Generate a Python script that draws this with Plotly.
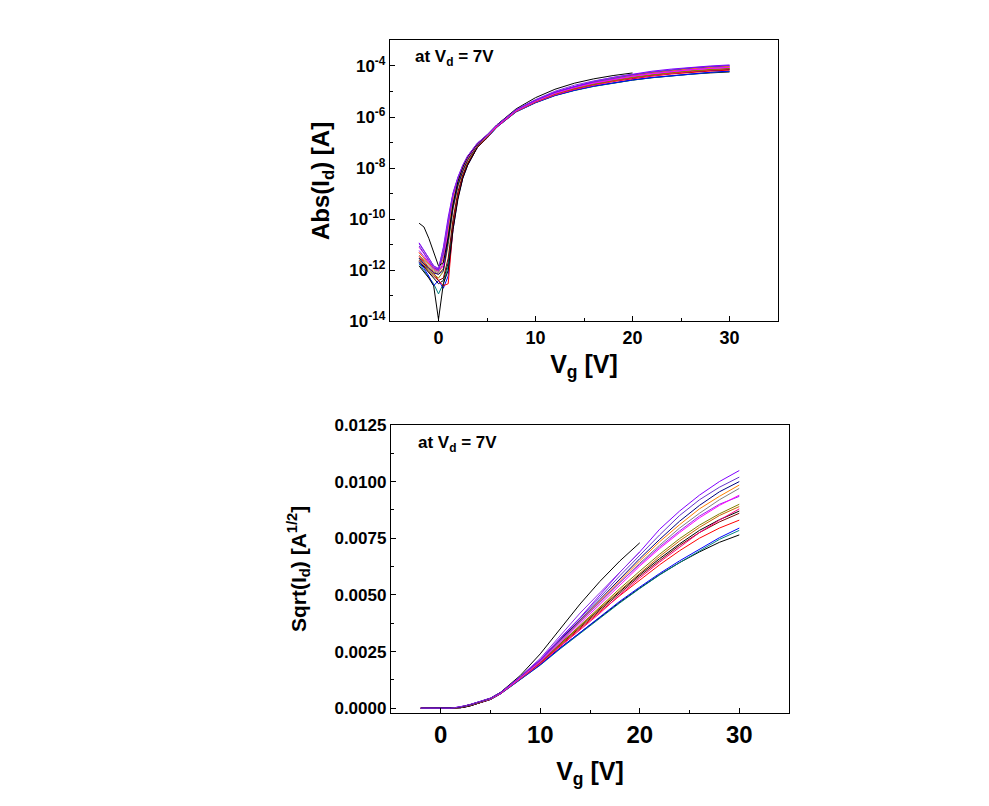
import numpy as np
import plotly.graph_objects as go

# Gate voltage grid [V]
vg = [-2, -1.5, -1, -0.5, 0, 0.5, 1, 1.5, 2, 2.5, 3, 4, 5,
      6, 8, 10, 12, 14, 16, 18, 20, 22, 24, 26, 28, 30]

# Abs(Id) [A] for each device
dev_p = [2.2e-12, 1.3e-12, 8e-13, 5e-13, 3e-13, 4e-13, 2e-12, 6e-11, 8e-10, 4.5e-9, 1.4e-8, 6.5e-8, 1.55e-7,
         4.10e-7, 1.64e-6, 3.72e-6, 7.08e-6, 1.12e-5, 1.62e-5, 2.19e-5, 2.81e-5, 3.48e-5, 4.13e-5, 4.76e-5, 5.36e-5, 5.85e-5]
dev_o = [1.8e-12, 1e-12, 6e-13, 3e-13, 1.2e-13, 3e-13, 1.5e-12, 7e-11, 9e-10, 5e-9, 1.5e-8, 6.8e-8, 1.5e-7,
         3.97e-7, 1.59e-6, 3.61e-6, 6.86e-6, 1.09e-5, 1.58e-5, 2.16e-5, 2.79e-5, 3.46e-5, 4.13e-5, 4.83e-5, 5.55e-5, 6.16e-5]
dev_n = [2e-12, 1.2e-12, 6e-13, 2.5e-13, 4e-13, 2e-13, 6e-13, 4e-11, 7e-10, 4e-9, 1.3e-8, 6.5e-8, 1.5e-7,
         3.97e-7, 1.61e-6, 3.69e-6, 7.02e-6, 1.12e-5, 1.64e-5, 2.23e-5, 2.86e-5, 3.54e-5, 4.23e-5, 4.94e-5, 5.66e-5, 6.32e-5]
dev_l = [3.5e-12, 2e-12, 1.2e-12, 8e-13, 4e-13, 2.5e-13, 3e-13, 5e-11, 8e-10, 4.5e-9, 1.4e-8, 6.5e-8, 1.55e-7,
         4.23e-7, 1.69e-6, 3.92e-6, 7.56e-6, 1.23e-5, 1.81e-5, 2.47e-5, 3.21e-5, 4.01e-5, 4.83e-5, 5.63e-5, 6.32e-5, 6.89e-5]
dev_k = [2.5e-12, 1.5e-12, 9e-13, 6e-13, 4e-13, 5e-13, 3e-12, 1e-10, 1.2e-9, 5.5e-9, 1.6e-8, 7e-8, 1.6e-7,
         4.23e-7, 1.72e-6, 4.0e-6, 7.84e-6, 1.27e-5, 1.89e-5, 2.60e-5, 3.40e-5, 4.25e-5, 5.16e-5, 6.01e-5, 6.76e-5, 7.40e-5]
dev_j = [1.5e-12, 9e-13, 5e-13, 2.5e-13, 1.2e-14, 3e-13, 1e-12, 4e-11, 6e-10, 4e-9, 1.3e-8, 6.5e-8, 1.6e-7,
         4.49e-7, 1.80e-6, 4.20e-6, 8.12e-6, 1.31e-5, 1.94e-5, 2.65e-5, 3.48e-5, 4.36e-5, 5.26e-5, 6.16e-5, 6.92e-5, 7.57e-5]
dev_m = [5e-12, 3e-12, 1.7e-12, 1.1e-12, 9e-13, 1.5e-12, 2.5e-11, 4e-10, 2.5e-9, 8.5e-9, 2.2e-8, 7.5e-8, 1.65e-7,
         4.10e-7, 1.66e-6, 3.84e-6, 7.40e-6, 1.20e-5, 1.76e-5, 2.50e-5, 3.31e-5, 4.16e-5, 5.07e-5, 6.01e-5, 6.89e-5, 7.74e-5]
dev_i = [4e-12, 2.2e-12, 1.3e-12, 9e-13, 7e-13, 1.2e-12, 2e-11, 3e-10, 2e-9, 7.5e-9, 2e-8, 7.5e-8, 1.7e-7,
         4.36e-7, 1.74e-6, 4.08e-6, 8.01e-6, 1.31e-5, 1.95e-5, 2.70e-5, 3.56e-5, 4.49e-5, 5.45e-5, 6.37e-5, 7.23e-5, 7.92e-5]
dev_h = [3e-12, 1.8e-12, 1e-12, 7e-13, 5e-13, 9e-13, 1e-11, 2.5e-10, 2e-9, 7.5e-9, 2e-8, 7.5e-8, 1.7e-7,
         4.36e-7, 1.74e-6, 4.12e-6, 8.12e-6, 1.34e-5, 2.00e-5, 2.79e-5, 3.66e-5, 4.62e-5, 5.60e-5, 6.53e-5, 7.36e-5, 8.10e-5]
dev_e = [4e-12, 2.5e-12, 1.5e-12, 1e-12, 8e-13, 2e-12, 3e-11, 4e-10, 2.5e-9, 9e-9, 2.3e-8, 8e-8, 1.75e-7,
         4.49e-7, 1.82e-6, 4.33e-6, 8.70e-6, 1.44e-5, 2.19e-5, 3.08e-5, 4.10e-5, 5.18e-5, 6.32e-5, 7.40e-5, 8.46e-5, 9.41e-5]
dev_c = [3e-12, 1.8e-12, 1.2e-12, 8e-13, 7e-13, 1e-12, 1.5e-11, 3e-10, 2.2e-9, 8e-9, 2.2e-8, 8e-8, 1.8e-7,
         4.62e-7, 1.88e-6, 4.49e-6, 9.0e-6, 1.52e-5, 2.30e-5, 3.25e-5, 4.36e-5, 5.55e-5, 6.81e-5, 8.01e-5, 9.12e-5, 1.0e-4]
dev_d = [5e-12, 3e-12, 1.8e-12, 1.2e-12, 1e-12, 3e-12, 5e-11, 6e-10, 3e-9, 1e-8, 2.5e-8, 8.5e-8, 1.85e-7,
         4.62e-7, 1.85e-6, 4.41e-6, 8.88e-6, 1.48e-5, 2.26e-5, 3.19e-5, 4.23e-5, 5.40e-5, 6.56e-5, 7.74e-5, 8.74e-5, 9.70e-5]
dev_g = [6e-12, 3.5e-12, 2e-12, 1.2e-12, 1e-12, 4e-12, 9e-11, 1e-9, 4e-9, 1.2e-8, 2.8e-8, 9e-8, 1.9e-7,
         4.62e-7, 1.88e-6, 4.41e-6, 8.88e-6, 1.47e-5, 2.21e-5, 3.08e-5, 4.03e-5, 5.07e-5, 6.12e-5, 7.19e-5, 8.10e-5, 8.74e-5]
dev_f = [8e-12, 4.5e-12, 2.2e-12, 1.3e-12, 1.1e-12, 1.5e-12, 6e-11, 8e-10, 3.5e-9, 1.1e-8, 2.6e-8, 8.5e-8, 1.8e-7,
         4.36e-7, 1.77e-6, 4.20e-6, 8.41e-6, 1.41e-5, 2.12e-5, 2.97e-5, 3.94e-5, 4.97e-5, 6.01e-5, 7.06e-5, 8.01e-5, 8.84e-5]
dev_b = [9e-12, 5e-12, 2.5e-12, 1.3e-12, 1e-12, 5e-12, 8e-11, 9e-10, 4e-9, 1.2e-8, 2.8e-8, 9e-8, 1.9e-7,
         4.76e-7, 1.93e-6, 4.54e-6, 9.30e-6, 1.56e-5, 2.40e-5, 3.42e-5, 4.56e-5, 5.85e-5, 7.23e-5, 8.46e-5, 9.51e-5, 1.04e-4]
dev_a = [1.2e-11, 6e-12, 3e-12, 1.5e-12, 1.1e-12, 8e-12, 1.2e-10, 1.1e-9, 4.5e-9, 1.3e-8, 3e-8, 9.5e-8, 2.0e-7,
         4.9e-7, 1.96e-6, 4.62e-6, 9.61e-6, 1.6e-5, 2.5e-5, 3.6e-5, 4.76e-5, 6.24e-5, 7.57e-5, 8.84e-5, 1.0e-4, 1.10e-4]
# two devices measured only up to Vg = 20 V
dev_s1 = [7e-11, 5e-11, 1.8e-11, 5e-12, 1.5e-12, 2e-12, 2e-11, 4e-10, 3e-9, 1.1e-8, 2.8e-8, 9e-8, 2e-7,
          4.9e-7, 2.10e-6, 5.76e-6, 1.225e-5, 2.116e-5, 3.136e-5, 4.225e-5, 5.329e-5]
dev_s2 = [1.1e-11, 6e-12, 3e-12, 1.5e-12, 1.2e-12, 7e-12, 1e-10, 1e-9, 4.2e-9, 1.3e-8, 3e-8, 9.5e-8, 2e-7,
          4.76e-7, 1.96e-6, 4.84e-6, 1.024e-5, 1.764e-5, 2.601e-5, 3.6e-5, 4.761e-5]

device_colors = ["#000000", "#008080", "#0000FF", "#FF0000", "#800000", "#000000",
                 "#FF0080", "#C86400", "#808000", "#808080", "#000080", "#FF8000",
                 "#A020F0", "#FF00FF", "#6633CC", "#8000FF", "#000000", "#8A2BE2"]
device_data = [dev_p, dev_o, dev_n, dev_l, dev_k, dev_j, dev_m, dev_i, dev_h, dev_e,
               dev_c, dev_d, dev_g, dev_f, dev_b, dev_a, dev_s1, dev_s2]

# tick labels
log_tickvals = [1e-14, 1e-12, 1e-10, 1e-8, 1e-6, 1e-4]
log_ticktext = ["10<sup>-14</sup>", "10<sup>-12</sup>", "10<sup>-10</sup>",
                "10<sup>-8</sup>", "10<sup>-6</sup>", "10<sup>-4</sup>"]
log_minor = [1e-13, 1e-11, 1e-9, 1e-7, 1e-5, 1e-3]
vg_ticks = [0, 10, 20, 30]
sq_ticks = [0.0, 0.0025, 0.005, 0.0075, 0.01, 0.0125]

fig = go.Figure()
for color, vals in zip(device_colors, device_data):
    x = vg[:len(vals)]
    y = np.array(vals)
    fig.add_trace(go.Scatter(x=x, y=y, mode="lines", line=dict(color=color, width=1),
                             xaxis="x", yaxis="y", showlegend=False, hoverinfo="skip"))
    fig.add_trace(go.Scatter(x=x, y=np.sqrt(y), mode="lines", line=dict(color=color, width=1),
                             xaxis="x2", yaxis="y2", showlegend=False, hoverinfo="skip"))

axis_common = dict(showline=True, mirror=True, linecolor="black", linewidth=1.3,
                   showgrid=False, zeroline=False, ticks="inside", ticklen=5,
                   tickcolor="black", tickwidth=1.2)

# figure sized to sit inside the page's default 8px body margin
W, H = 973, 790

fig.update_layout(
    width=W, height=H,
    margin=dict(l=0, r=0, t=0, b=0),
    paper_bgcolor="white", plot_bgcolor="white",
    font=dict(family="Liberation Sans, Arial, sans-serif", color="black", weight="bold"),
    xaxis=dict(domain=[0.3926, 0.7914], anchor="y", range=[-5, 35],
               tickvals=vg_ticks, tickfont=dict(size=18),
               minor=dict(tickvals=[5, 15, 25], ticks="inside", ticklen=3, tickcolor="black"),
               title=dict(text="V<sub>g</sub> [V]", font=dict(size=25), standoff=8),
               **axis_common),
    yaxis=dict(domain=[0.6051, 0.9696], anchor="x", type="log", range=[-14, -3],
               tickvals=log_tickvals, ticktext=log_ticktext, tickfont=dict(size=17),
               minor=dict(tickvals=log_minor, ticks="inside", ticklen=3, tickcolor="black"),
               title=dict(text="Abs(I<sub>d</sub>) [A]", font=dict(size=24), standoff=12),
               **axis_common),
    xaxis2=dict(domain=[0.3936, 0.8027], anchor="y2", range=[-5, 35],
                tickvals=vg_ticks, tickfont=dict(size=24),
                minor=dict(tickvals=[5, 15, 25], ticks="inside", ticklen=3, tickcolor="black"),
                title=dict(text="V<sub>g</sub> [V]", font=dict(size=25), standoff=15),
                **axis_common),
    yaxis2=dict(domain=[0.0975, 0.4709], anchor="x2", range=[-0.0002, 0.0125],
                tickvals=sq_ticks, tickformat=".4f", tickfont=dict(size=17),
                minor=dict(dtick=0.00125, ticks="inside", ticklen=3, tickcolor="black"),
                title=dict(text="Sqrt(I<sub>d</sub>) [A<sup>1/2</sup>]", font=dict(size=21), standoff=22),
                **axis_common),
    annotations=[
        dict(text="at V<sub>d</sub> = 7V", xref="paper", yref="paper",
             x=0.4162, y=0.9468, xanchor="left", yanchor="middle",
             showarrow=False, font=dict(size=17)),
        dict(text="at V<sub>d</sub> = 7V", xref="paper", yref="paper",
             x=0.4193, y=0.4456, xanchor="left", yanchor="middle",
             showarrow=False, font=dict(size=17)),
    ],
)

fig.write_html("out.html")
